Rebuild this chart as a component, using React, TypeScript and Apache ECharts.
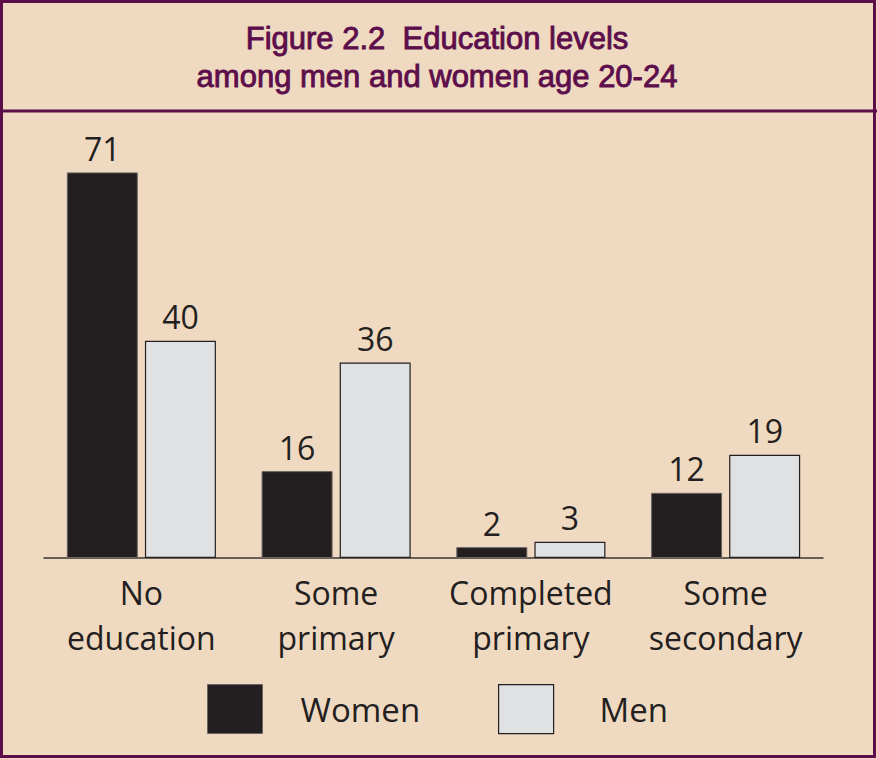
import React, { useEffect, useRef } from "react";
import * as echarts from "echarts";

const categories = ["No\neducation", "Some\nprimary", "Completed\nprimary", "Some\nsecondary"];
const women = [71, 16, 2, 12];
const men = [40, 36, 3, 19];
const titleText = "Figure 2.2  Education levels\namong men and women age 20-24";

const BG = "#F0D9C1";
const PURPLE = "#5C0E4B";
const DARK = "#231F20";
const LIGHT = "#E0E1E3";
const FONT = "'Open Sans', Lato, sans-serif";

export default function App() {
  const ref = useRef<HTMLDivElement>(null);
  useEffect(() => {
    if (!ref.current) return;
    const chart = echarts.init(ref.current, null, { renderer: "svg" });
    chart.setOption({
      animation: false,
      backgroundColor: BG,
      graphic: [
        { type: "rect", shape: { x: 1.5, y: 1.5, width: 873, height: 755 }, style: { fill: "none", stroke: PURPLE, lineWidth: 3 }, silent: true },
        { type: "line", shape: { x1: 0, y1: 111, x2: 877, y2: 111 }, style: { stroke: PURPLE, lineWidth: 3 }, silent: true },
        {
          type: "text",
          x: 437,
          y: 19,
          silent: true,
          style: {
            text: titleText,
            textAlign: "center",
            textVerticalAlign: "top",
            fontFamily: "'Liberation Sans Narrow', 'Arial Narrow', 'Liberation Sans', sans-serif",
            fontSize: 31,
            lineHeight: 38,
            fill: PURPLE,
            stroke: PURPLE,
            lineWidth: 0.9,
          },
        },
      ],
      legend: [
        {
          data: [{ name: "Women", itemStyle: { color: DARK, borderColor: "#6b6460", borderWidth: 1 } }],
          left: 207, top: 684, padding: 0,
          itemWidth: 55, itemHeight: 49, icon: "rect",
          textStyle: { fontFamily: FONT, fontSize: 33, color: DARK, padding: [0, 0, 0, 33] },
          selectedMode: false,
        },
        {
          data: [{ name: "Men", itemStyle: { color: LIGHT, borderColor: DARK, borderWidth: 1.2 } }],
          left: 498, top: 684, padding: 0,
          itemWidth: 55, itemHeight: 49, icon: "rect",
          textStyle: { fontFamily: FONT, fontSize: 33, color: DARK, padding: [0, 0, 0, 41] },
          selectedMode: false,
        },
      ],
      grid: { left: 44, right: 54, top: 123.5, bottom: 201, containLabel: false },
      xAxis: {
        type: "category",
        data: categories,
        axisTick: { show: false },
        axisLine: { lineStyle: { color: "#3a3636", width: 1.5 } },
        axisLabel: { fontFamily: FONT, fontSize: 32, lineHeight: 45, color: DARK, margin: 12, interval: 0 },
      },
      yAxis: { type: "value", min: 0, max: 80, show: false, splitLine: { show: false } },
      series: [
        {
          name: "Women", type: "bar", data: women, barWidth: 71, barGap: "10%",
          itemStyle: { color: DARK, borderColor: "#6b6460", borderWidth: 1 },
          label: { show: true, position: "top", distance: 8, fontFamily: FONT, fontSize: 32, color: DARK },
        },
        {
          name: "Men", type: "bar", data: men, barWidth: 71,
          itemStyle: { color: LIGHT, borderColor: DARK, borderWidth: 1.2 },
          label: { show: true, position: "top", distance: 8, fontFamily: FONT, fontSize: 32, color: DARK },
        },
      ],
    });
    return () => chart.dispose();
  }, []);
  return <div ref={ref} style={{ position: "absolute", left: 0, top: 0, width: 877, height: 759 }} />;
}
